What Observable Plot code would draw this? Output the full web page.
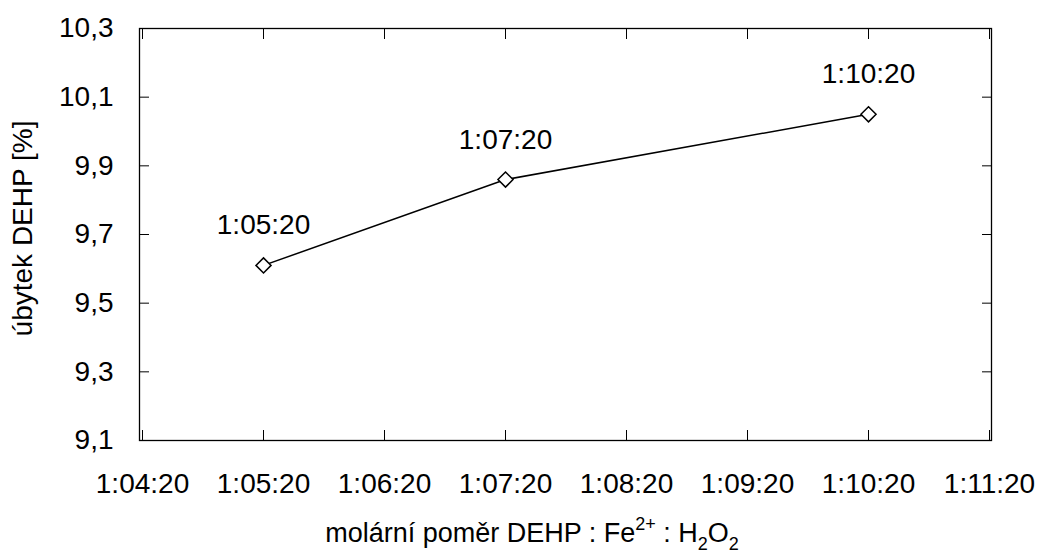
<!DOCTYPE html>
<html><head><meta charset="utf-8">
<script src="https://cdn.jsdelivr.net/npm/d3@7"></script>
<script src="https://cdn.jsdelivr.net/npm/@observablehq/plot@0.6"></script>
<style>
body{margin:0;background:#fff;}
#wrap{position:relative;width:1042px;height:554px;font-family:"Liberation Sans",Arial,sans-serif;color:#000;}
#xtitle{position:absolute;left:0;width:1064px;top:520px;text-align:center;font-size:27px;line-height:26px;white-space:nowrap;}
#xtitle sup,#xtitle sub{font-size:18px;line-height:0;position:relative;vertical-align:baseline;}
#xtitle sup{top:-12px;}
#xtitle sub{top:8px;}
</style></head><body>
<div id="wrap"><div id="chart"></div><div id="xtitle">molární poměr DEHP : Fe<sup>2+</sup> : H<sub>2</sub>O<sub>2</sub></div></div>
<script>
const xCategories = ["1:04:20","1:05:20","1:06:20","1:07:20","1:08:20","1:09:20","1:10:20","1:11:20"];
const pointLabels = ["1:05:20","1:07:20","1:10:20"];
const pointValues = [9.61, 9.86, 10.05];
const yTicks = [9.1, 9.3, 9.5, 9.7, 9.9, 10.1, 10.3];
const yLabel = "úbytek DEHP [%]";

const data = pointLabels.map((c, i) => ({cat: c, value: pointValues[i]}));
const fmt = d => d.toFixed(1).replace(".", ",");
const FS = 28;

const plot = Plot.plot({
  width: 1042, height: 510,
  marginLeft: 139, marginRight: 51, marginTop: 28, marginBottom: 70,
  style: {fontFamily: '"Liberation Sans", Arial, sans-serif', fontSize: FS + "px", color: "#000", background: "#fff"},
  x: {type: "point", domain: xCategories, padding: 0, label: null},
  y: {domain: [9.1, 10.3], label: null},
  marks: [
    Plot.frame({stroke: "#000", strokeWidth: 1.3}),
    Plot.axisX({anchor: "bottom", ticks: xCategories, tickSize: 0, tickPadding: 33, label: null, fontSize: FS}),
    Plot.axisX({anchor: "bottom", ticks: xCategories, tickSize: 10, dy: -10, fill: "none", label: null}),
    Plot.axisX({anchor: "top", ticks: xCategories, tickSize: 10, dy: 10, fill: "none", label: null}),
    Plot.axisY({anchor: "left", ticks: yTicks, tickFormat: fmt, tickSize: 0, tickPadding: 26, label: null, fontSize: FS}),
    Plot.axisY({anchor: "left", ticks: yTicks, tickSize: 10, dx: 10, fill: "none", label: null}),
    Plot.axisY({anchor: "right", ticks: yTicks, tickSize: 10, dx: -10, fill: "none", label: null}),
    Plot.line(data, {x: "cat", y: "value", stroke: "#000", strokeWidth: 1.5}),
    Plot.dot(data, {x: "cat", y: "value", symbol: "diamond2", r: 6.8, fill: "#fff", stroke: "#000", strokeWidth: 1.5}),
    Plot.text(data, {x: "cat", y: "value", text: "cat", dy: -40, fontSize: FS, fill: "#000"}),
    Plot.text([yLabel], {frameAnchor: "left", text: d => d, rotate: -90, textAnchor: "middle", lineAnchor: "bottom", dx: -108, dy: -6, fontSize: FS, fill: "#000"})
  ]
});
document.getElementById("chart").appendChild(plot);
</script>
</body></html>
